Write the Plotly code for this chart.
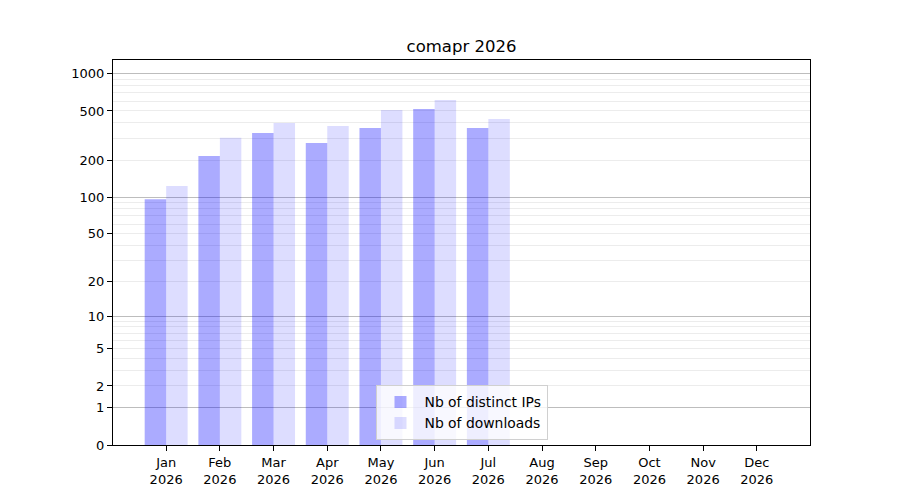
import numpy as np
import plotly.graph_objects as go

# Monthly stats (Aug-Dec are empty)
months = ['Jan', 'Feb', 'Mar', 'Apr', 'May', 'Jun', 'Jul', 'Aug', 'Sep', 'Oct', 'Nov', 'Dec']
year = 2026
distinct_ips = [96, 216, 332, 275, 364, 519, 364, 0, 0, 0, 0, 0]
downloads = [123, 304, 400, 378, 510, 614, 431, 0, 0, 0, 0, 0]

y_ticks = [0, 1, 2, 5, 10, 20, 50, 100, 200, 500, 1000]
y_major = [1, 10, 100, 1000]
y_minor = [k * 10 ** p for p in range(0, 3) for k in (3, 4, 6, 7, 8, 9)]

x = list(range(len(months)))
ticktext = [f'{m}<br>{year}' for m in months]

# axis is log10(1 + y), so shift everything by one and use a log axis
shift = lambda vals: [v + 1 for v in vals]

fig = go.Figure()
fig.add_trace(go.Bar(x=x, y=shift(distinct_ips), name='Nb of distinct IPs',
                     marker=dict(color='rgba(0,0,255,0.33)', line=dict(width=0))))
fig.add_trace(go.Bar(x=x, y=shift(downloads), name='Nb of downloads',
                     marker=dict(color='rgba(0,0,255,0.135)', line=dict(width=0))))

# invisible trace just to carry the darker major grid axis
fig.add_trace(go.Scatter(x=[x[0]], y=[1], yaxis='y2', mode='markers',
                         marker=dict(opacity=0), showlegend=False, hoverinfo='skip'))

yrange = [0, 3.112]

fig.update_layout(
    width=900, height=500,
    # page body adds 8px, so margins are pulled in by that much
    margin=dict(l=105, r=98, t=52, b=63),
    paper_bgcolor='white', plot_bgcolor='white',
    font=dict(family='DejaVu Sans', size=13, color='black'),
    title=dict(text=f'comapr {year}', x=0.5, xref='paper', xanchor='center',
               y=1, yref='paper', yanchor='bottom', pad=dict(b=8),
               font=dict(size=16.5, color='black')),
    barmode='group', bargap=0.2, bargroupgap=0,
    showlegend=True,
    legend=dict(x=0.5, xanchor='center', y=0.012, yanchor='bottom',
                bgcolor='rgba(255,255,255,0.8)', bordercolor='#d0d0d0', borderwidth=1,
                font=dict(size=13.9), tracegroupgap=0, itemwidth=38),
    xaxis=dict(range=[-0.99, 11.99], tickmode='array', tickvals=x, ticktext=ticktext,
               ticks='outside', ticklen=5, tickcolor='black', showgrid=False, zeroline=False,
               showline=True, linecolor='black', linewidth=1, mirror=True),
    yaxis=dict(type='log', range=yrange, tickmode='array', tickvals=shift(y_ticks),
               ticktext=[str(v) for v in y_ticks], ticks='outside', ticklen=5, tickcolor='black',
               showgrid=True, gridcolor='#ececec', gridwidth=1,
               minor=dict(tickmode='array', tickvals=shift(y_minor), showgrid=True,
                          gridcolor='#ececec', gridwidth=1, ticks=''),
               showline=True, linecolor='black', linewidth=1, mirror=True, zeroline=False),
    yaxis2=dict(type='log', range=yrange, overlaying='y', side='left', tickmode='array',
                tickvals=shift(y_major), showticklabels=False, ticks='',
                showgrid=True, gridcolor='#bdbdbd', gridwidth=1, showline=False, zeroline=False),
)

fig.write_html('out.html')
